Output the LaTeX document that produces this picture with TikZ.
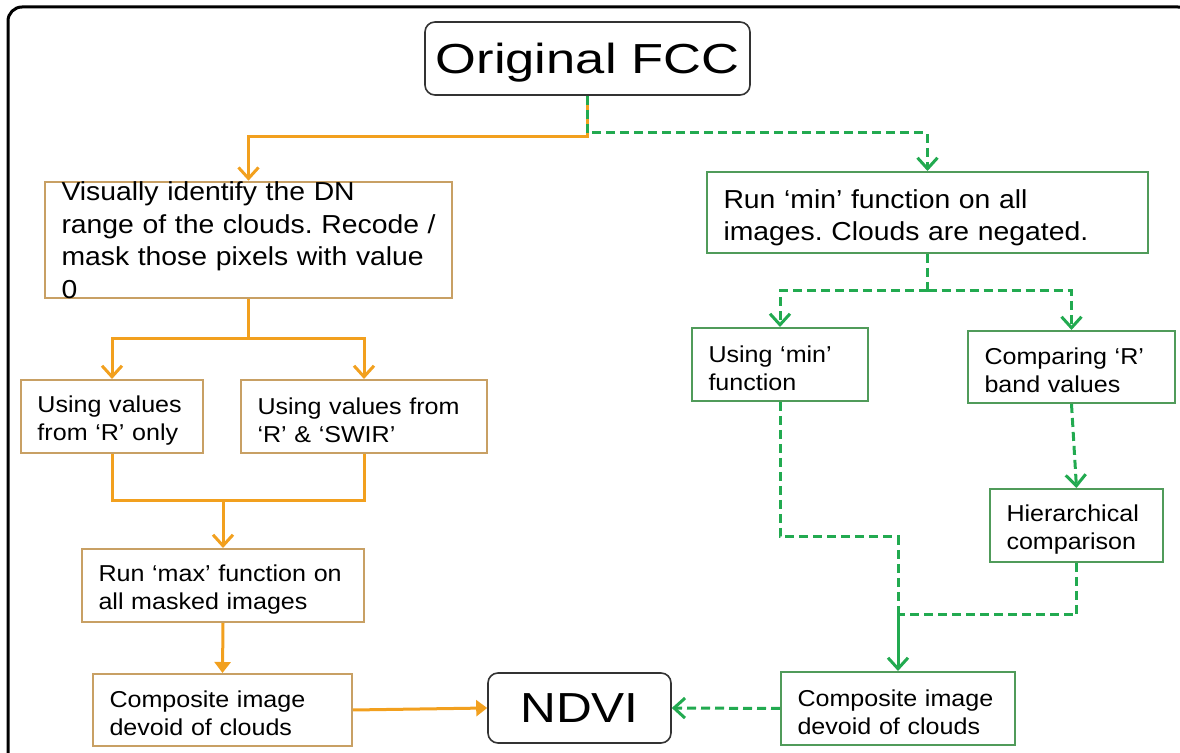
\documentclass[tikz,border=0pt]{standalone}
\usepackage{fontspec}
\setmainfont{Liberation Sans}[FakeStretch=1.09]
\newfontfamily\bigfont{Liberation Sans}[FakeStretch=1.18]
\newfontfamily\fccfont{Liberation Sans}[FakeStretch=1.25]
\usetikzlibrary{arrows.meta}
\definecolor{olinec}{RGB}{242,160,30}
\definecolor{oboxc}{RGB}{200,160,100}
\definecolor{glinec}{RGB}{34,170,80}
\definecolor{gboxc}{RGB}{80,155,90}
\frenchspacing
\begin{document}
\begin{tikzpicture}[x=0.5pt,y=-0.5pt,
 box/.style={draw, line width=1pt, inner xsep=8.25pt, inner ysep=1pt, align=left,
   font={\fontsize{11.5}{14}\selectfont}, execute at begin node={\rule{0pt}{12pt}}},
 bigbox/.style={draw, line width=1pt, inner xsep=8.25pt, inner ysep=0pt, align=left,
   font={\fontsize{13}{16.25}\selectfont}},
 obx/.style={draw=oboxc},
 gbx/.style={draw=gboxc},
 rbox/.style={draw=black!80, line width=0.8pt, rounded corners=5pt, inner sep=0pt,
   text depth=0pt, font={\bigfont\fontsize{21}{25}\selectfont}},
 ocon/.style={draw=olinec, line width=1.5pt},
 gcon/.style={draw=glinec, line width=1.5pt, dash pattern=on 4.5pt off 2.5pt},
 gsolid/.style={draw=glinec, line width=1.5pt},
 barb/.style={-{Straight Barb[length=5.5pt,width=10pt]}},
 tri/.style={-{Triangle[length=5.5pt,width=8pt]}}
]
\useasboundingbox (0,0) rectangle (1180,753);
\clip (0,0) rectangle (1180,753);
\draw[line width=1.5pt, rounded corners=7pt] (8,7) rectangle (1192,768);

% nodes
\node[rbox, font={\fccfont\fontsize{21}{25}\selectfont}, minimum width=162.5pt, minimum height=36.5pt] (fcc) at (587.5,58.5) {Original FCC};
\node[bigbox, obx, minimum width=203.5pt, minimum height=57.5pt, text width=187pt] (vis) at (248.5,240)
  {\mbox{Visually identify the DN}\\\mbox{range of the clouds. Recode /}\\\mbox{mask those pixels with value}\\\mbox{0}};
\node[box, obx, minimum width=91pt, minimum height=36.5pt, text width=74.5pt] (uR) at (112,416.5)
  {\mbox{Using values}\\\mbox{from ‘R’ only}};
\node[box, obx, minimum width=123pt, minimum height=36.5pt, text width=106.5pt] (uRS) at (364,416.5)
  {\mbox{Using values from}\\\mbox{‘R’ \& ‘SWIR’}};
\node[box, obx, minimum width=141pt, minimum height=36.5pt, text width=124.5pt] (max) at (223,585.5)
  {\mbox{Run ‘max’ function on}\\\mbox{all masked images}};
\node[box, obx, minimum width=129.5pt, minimum height=36pt, text width=113pt] (compL) at (222.5,710)
  {\mbox{Composite image}\\\mbox{devoid of clouds}};
\node[rbox, minimum width=91.5pt, minimum height=35pt] (ndvi) at (579.5,708) {NDVI};
\node[bigbox, gbx, inner ysep=1pt, minimum width=220.5pt, minimum height=40.5pt, text width=204pt,
  execute at begin node={\rule{0pt}{14.5pt}}] (runmin) at (927.5,212.5)
  {\mbox{Run ‘min’ function on all}\\\mbox{images. Clouds are negated.}};
\node[box, gbx, minimum width=88pt, minimum height=36.5pt, text width=71.5pt] (umin) at (780,364.5)
  {\mbox{Using ‘min’}\\\mbox{function}};
\node[box, gbx, minimum width=103.5pt, minimum height=36pt, text width=87pt] (cmp) at (1071.5,367)
  {\mbox{Comparing ‘R’}\\\mbox{band values}};
\node[box, gbx, minimum width=86.5pt, minimum height=36.5pt, text width=70pt] (hier) at (1076.5,525.5)
  {\mbox{Hierarchical}\\\mbox{comparison}};
\node[box, gbx, minimum width=117pt, minimum height=36.5pt, text width=100.5pt] (compR) at (898,708.5)
  {\mbox{Composite image}\\\mbox{devoid of clouds}};

% bend points
\coordinate (ob1) at (248.5,137);
\coordinate (os) at (248.5,339);
\coordinate (oj) at (223,501);
\coordinate (gb1) at (927.5,133);
\coordinate (gs) at (927.5,291);
\coordinate (gk) at (898,537);
\coordinate (gj) at (898,615);

% orange connectors
\draw[ocon, barb] (fcc.south) |- (ob1) -- (vis.north);
\draw[ocon] (vis.south) -- (os);
\draw[ocon, barb] (os) -| (uR.north);
\draw[ocon, barb] (os) -| (uRS.north);
\draw[ocon] (uR.south) |- (oj);
\draw[ocon] (uRS.south) |- (oj);
\draw[ocon, barb] (oj) -- (max.north);
\draw[ocon, tri] (max.south) -- (compL.north);
\draw[ocon, tri] (compL.east) -- (ndvi.west);

% green connectors
\draw[gcon, barb] (fcc.south) |- (gb1) -| (runmin.north);
\draw[gcon] (runmin.south) -- (gs);
\draw[gcon, barb] (gs) -| (umin.north);
\draw[gcon, barb] (gs) -| (cmp.north);
\draw[gcon, barb] (cmp.south) -- (hier.north);
\draw[gcon] (umin.south) |- (gk) -- (gj);
\draw[gcon] (hier.south) |- (gj);
\draw[gsolid, barb] (gj) -- (compR.north);
\draw[gcon, barb] (compR.west) -- (ndvi.east);
\end{tikzpicture}
\end{document}
